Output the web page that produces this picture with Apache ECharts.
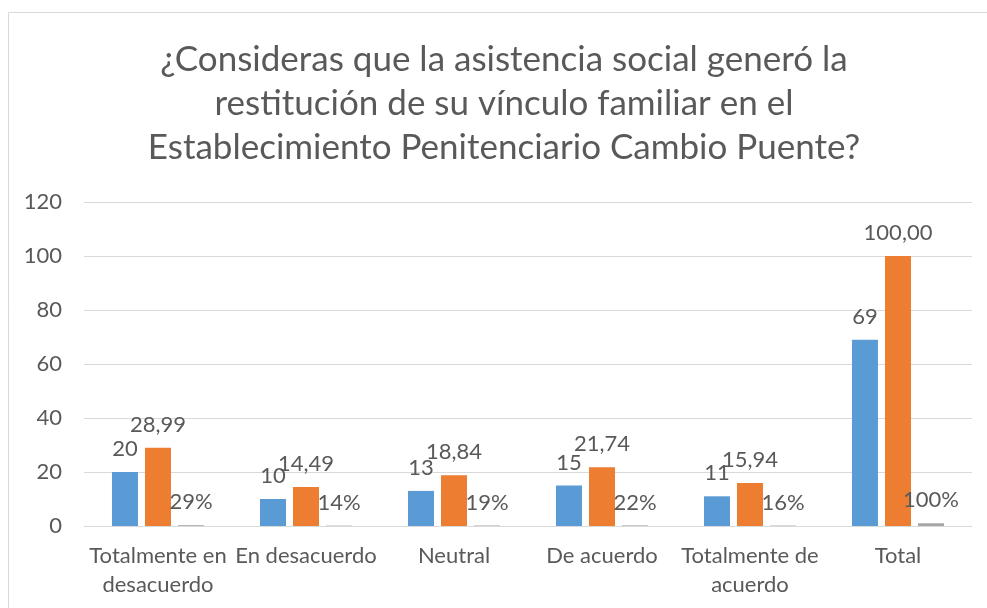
<!DOCTYPE html>
<html>
<head>
<meta charset="utf-8">
<script src="https://cdn.jsdelivr.net/npm/echarts@6/dist/echarts.min.js"></script>
<style>
  html, body { margin: 0; padding: 0; background: #fff; }
  #chart { width: 987px; height: 608px; }
</style>
</head>
<body>
<div id="chart"></div>
<script>
// datos
var categorias = ["Totalmente en\ndesacuerdo", "En desacuerdo", "Neutral", "De acuerdo", "Totalmente de\nacuerdo", "Total"];
var frecuencia = [20, 10, 13, 15, 11, 69];
var porcentaje = [28.99, 14.49, 18.84, 21.74, 15.94, 100.00];
var proporcion = [0.2899, 0.1449, 0.1884, 0.2174, 0.1594, 1.00];
var ticksY = [0, 20, 40, 60, 80, 100, 120];

var fuente = "Lato";
var gris = "#595959";

var chart = echarts.init(document.getElementById("chart"));

function etiqueta(fmt) {
  return {
    show: true,
    position: "top",
    distance: 12,
    color: gris,
    fontFamily: fuente,
    fontSize: 22,
    formatter: fmt
  };
}

chart.setOption({
  animation: false,
  color: ["#5B9BD5", "#ED7D31", "#A5A5A5"],
  title: {
    text: "¿Consideras que la asistencia social generó la\nrestitución de su vínculo familiar en el\nEstablecimiento Penitenciario Cambio Puente?",
    left: 504,
    textAlign: "center",
    top: 38,
    padding: 0,
    textStyle: {
      color: gris,
      fontFamily: fuente,
      fontSize: 35,
      fontWeight: "normal",
      lineHeight: 44,
      align: "center"
    }
  },
  graphic: [{
    type: "rect",
    silent: true,
    shape: { x: 8.5, y: 12.5, width: 1000, height: 700 },
    style: { fill: "none", stroke: "#d9d9d9", lineWidth: 1 }
  }],
  grid: {
    left: 84,
    right: 15,
    top: 202,
    bottom: 82
  },
  xAxis: {
    type: "category",
    data: categorias,
    axisLine: { lineStyle: { color: "#d9d9d9", width: 1 } },
    axisTick: { show: false },
    axisLabel: {
      color: gris,
      fontFamily: fuente,
      fontSize: 22,
      lineHeight: 29,
      margin: 15,
      interval: 0
    }
  },
  yAxis: {
    type: "value",
    min: ticksY[0],
    max: ticksY[ticksY.length - 1],
    interval: 20,
    axisLine: { show: false },
    axisTick: { show: false },
    splitLine: { lineStyle: { color: "#d9d9d9", width: 1 } },
    axisLabel: {
      color: gris,
      fontFamily: fuente,
      fontSize: 22,
      margin: 22
    }
  },
  series: [{
    name: "Frecuencia",
    type: "bar",
    data: frecuencia,
    barWidth: 26,
    barGap: "27%",
    label: etiqueta(function (p) { return p.value; })
  }, {
    name: "Porcentaje",
    type: "bar",
    data: porcentaje,
    barWidth: 26,
    label: etiqueta(function (p) { return p.value.toFixed(2).replace(".", ","); })
  }, {
    name: "Proporción",
    type: "bar",
    data: proporcion,
    barWidth: 26,
    label: etiqueta(function (p) { return Math.round(p.value * 100) + "%"; })
  }]
});
</script>
</body>
</html>
